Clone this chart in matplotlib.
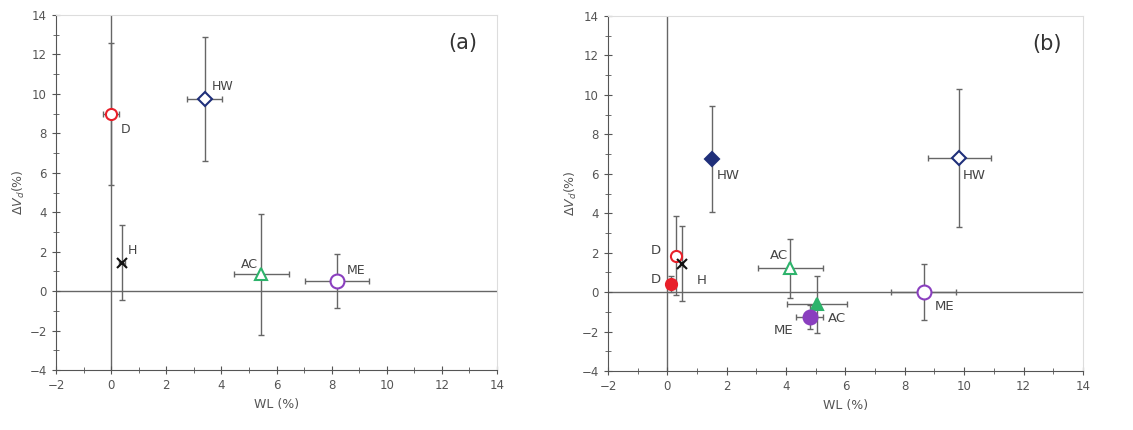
import numpy as np
import matplotlib
matplotlib.use("Agg")
import matplotlib.pyplot as plt

# panel (a): treatment, WL (%), dVd (%), errors
a_names = ["D", "HW", "H", "AC", "ME"]
a_wl = [0.0, 3.4, 0.4, 5.45, 8.2]
a_dv = [9.0, 9.75, 1.45, 0.85, 0.5]
a_wl_err = [0.3, 0.63, 0.1, 1.0, 1.15]
a_dv_err = [3.6, 3.15, 1.9, 3.05, 1.38]
a_label_xy = [(0.35, 8.2), (3.65, 10.4), (0.6, 2.05), (4.7, 1.35), (8.55, 1.05)]

# panel (b): open and filled markers
b_names = ["HW", "HW", "D", "D", "H", "AC", "AC", "ME", "ME"]
b_wl = [1.5, 9.84, 0.3, 0.12, 0.49, 4.14, 5.04, 4.79, 8.63]
b_dv = [6.74, 6.8, 1.84, 0.4, 1.45, 1.2, -0.61, -1.25, 0.0]
b_wl_err = [0.05, 1.05, 0.15, 0.1, 0.05, 1.1, 1.0, 0.45, 1.1]
b_dv_err = [2.7, 3.5, 2.0, 0.4, 1.9, 1.5, 1.45, 0.6, 1.43]
b_label_xy = [(1.65, 5.9), (9.95, 5.9), (-0.55, 2.1), (-0.55, 0.65), (1.0, 0.6),
              (3.45, 1.85), (5.4, -1.35), (3.6, -1.95), (9.0, -0.75)]

colors = {"D": "#e8202a", "HW": "#1f2f7a", "H": "#111111", "AC": "#2db36b", "ME": "#8a3fbf"}
marks = {"D": "o", "HW": "D", "H": "x", "AC": "^", "ME": "o"}
sizes = {"D": 8, "HW": 7, "H": 7, "AC": 8, "ME": 10}
b_filled = [True, False, False, True, False, False, True, True, False]


def style_axes(ax, tag):
    ax.set_xlim(-2, 14)
    ax.set_ylim(-4, 14)
    ax.set_xticks(np.arange(-2, 15, 2))
    ax.set_yticks(np.arange(-4, 15, 2))
    ax.set_xticks(np.arange(-2, 15, 1), minor=True)
    ax.set_yticks(np.arange(-4, 15, 1), minor=True)
    ax.tick_params(which="both", direction="inout", colors="#555555", labelsize=8.5,
                   top=False, right=False)
    ax.tick_params(which="major", length=6)
    ax.tick_params(which="minor", length=4)
    for s in ["left", "bottom"]:
        ax.spines[s].set_color("#555555")
    for s in ["top", "right"]:
        ax.spines[s].set_color("#dddddd")
    ax.axhline(0, color="#666666", lw=1, zorder=1)
    ax.axvline(0, color="#666666", lw=1, zorder=1)
    ax.set_xlabel("WL (%)", color="#555555", fontsize=9)
    ax.set_ylabel(r"$\Delta V_d$(%)", color="#555555", fontsize=9, labelpad=2)
    ax.text(13.3, 12.6, tag, fontsize=15, ha="right", va="center", color="#333333")


fig = plt.figure(figsize=(11.33, 4.3), dpi=100)
ax1 = fig.add_axes([0.0494, 0.1395, 0.3893, 0.8256])
ax2 = fig.add_axes([0.5366, 0.1372, 0.4192, 0.8256])

style_axes(ax1, "(a)")
for i, n in enumerate(a_names):
    ax1.errorbar(a_wl[i], a_dv[i], xerr=a_wl_err[i], yerr=a_dv_err[i], fmt="none",
                 ecolor="#666666", elinewidth=1, capsize=2.5, zorder=2)
    ax1.plot(a_wl[i], a_dv[i], marker=marks[n], ms=sizes[n], mfc="white",
             mec=colors[n], mew=1.5, ls="none", zorder=3)
    ax1.text(a_label_xy[i][0], a_label_xy[i][1], n, fontsize=9, color="#444444",
             ha="left", va="center")

style_axes(ax2, "(b)")
for i, n in enumerate(b_names):
    ax2.errorbar(b_wl[i], b_dv[i], xerr=b_wl_err[i], yerr=b_dv_err[i], fmt="none",
                 ecolor="#666666", elinewidth=1, capsize=2.5, zorder=2)
    ax2.plot(b_wl[i], b_dv[i], marker=marks[n], ms=sizes[n],
             mfc=colors[n] if b_filled[i] else "white", mec=colors[n], mew=1.5,
             ls="none", zorder=3)
    ax2.text(b_label_xy[i][0], b_label_xy[i][1], n, fontsize=9.5, color="#444444",
             ha="left", va="center")

fig.savefig("out.png", dpi=100)
